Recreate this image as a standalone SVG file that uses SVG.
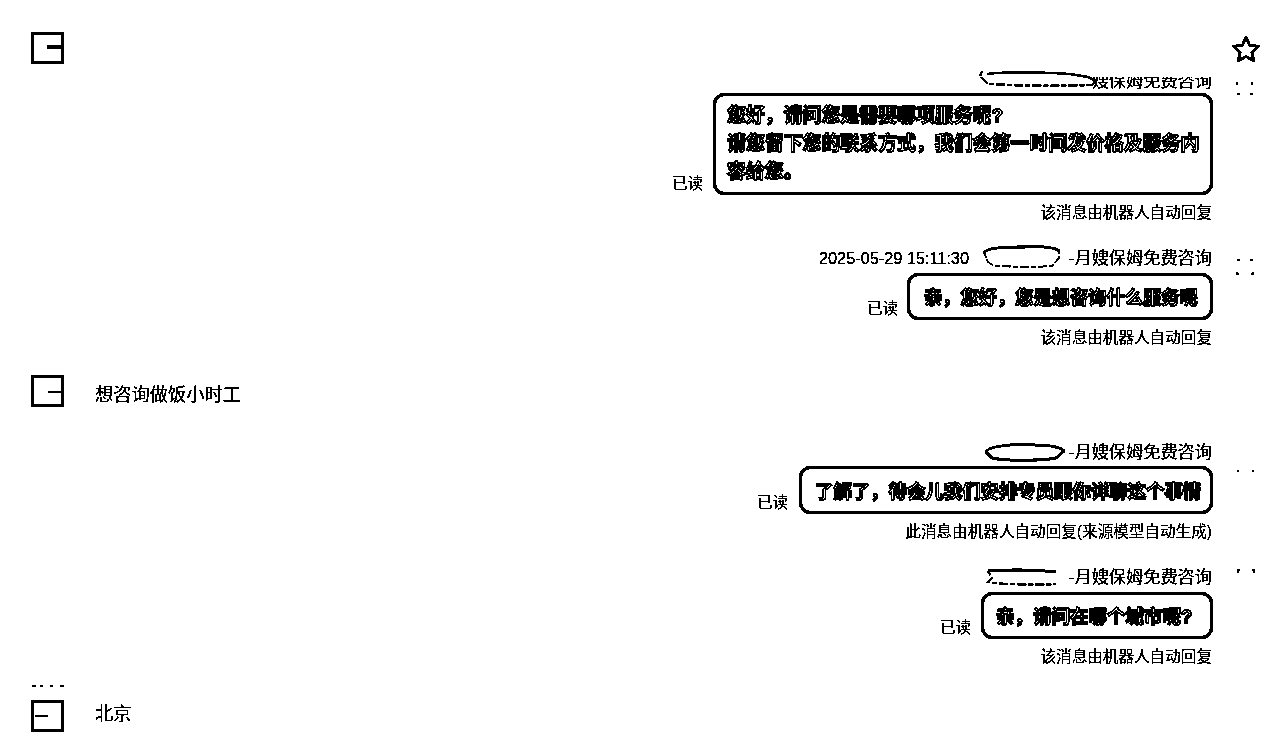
<svg xmlns="http://www.w3.org/2000/svg" width="1280" height="755" viewBox="0 0 1280 755">
<style>
text{font-family:"Liberation Sans","Noto Sans CJK SC",sans-serif;fill:#111}
.s{font-size:15.600px}
.h{font-size:17.200px}
.m{font-size:18.250px}
.b{font-weight:700;fill:#fff;stroke:#000;stroke-width:1.300px}
.bub{fill:#fff;stroke:#000;stroke-width:3}
.av{fill:#fff;stroke:#000;stroke-width:3}
.blob{fill:#fff;stroke:#000;stroke-width:2;stroke-linejoin:round}
.dot{fill:none;stroke:#000;stroke-width:2;stroke-dasharray:5 2 9 2}
.tick{fill:none;stroke:#000;stroke-width:1.500}
</style>
<defs>
<clipPath id="cut"><rect x="1090" y="77" width="130" height="13"/></clipPath>
<filter id="bw" x="0" y="0" width="100%" height="100%" color-interpolation-filters="sRGB">
<feColorMatrix type="matrix" values=".33 .34 .33 0 0 .33 .34 .33 0 0 .33 .34 .33 0 0 0 0 0 1 0"/>
<feComponentTransfer><feFuncR type="discrete" tableValues="0 0 0 1"/><feFuncG type="discrete" tableValues="0 0 0 1"/><feFuncB type="discrete" tableValues="0 0 0 1"/></feComponentTransfer>
</filter>
</defs>
<g filter="url(#bw)">
<rect width="1280" height="755" fill="#fff"/>
<g id="avatar1"><rect class="av" x="32.500" y="33.500" width="30" height="29"/><path d="M47 47H62" stroke="#000" stroke-width="3"/></g>
<g id="star"><path d="M1246 37l3.600 8.400 8.900.8-6.700 6 2 8.800-7.800-4.600-7.800 4.600 2-8.800-6.700-6 8.900-.8z" fill="#fff" stroke="#000" stroke-width="2.500" stroke-linejoin="round"/></g>
<g id="msg1">
<g clip-path="url(#cut)"><text class="h" x="1212" y="87" text-anchor="end">嫂保姆免费咨询</text></g>
<path d="M987 74C1005 72 1040 72 1070 74L1088 77L1096 81" fill="none" stroke="#000" stroke-width="2"/>
<path class="dot" d="M982 71L980 76L988 84C1020 86 1060 86 1092 85L1096 81"/>
<rect class="bub" x="714.500" y="94.500" width="497" height="99" rx="10"/>
<text class="m b" x="727" y="122" style="font-size:18.900px">您好，请问您是需要哪项服务呢?</text>
<text class="m b" x="727" y="150" style="font-size:18.900px">请您留下您的联系方式，我们会第一时间发价格及服务内</text>
<text class="m b" x="727" y="178" style="font-size:18.900px">容给您。</text>
<text class="s" x="672" y="189">已读</text>
<text class="s" x="1212" y="218" text-anchor="end">该消息由机器人自动回复</text>
<path class="tick" d="M1237 82v3M1252 82v3M1237 94h3M1250 94h3"/>
</g>
<g id="msg2">
<text x="819" y="264" style="font-size:16.300px">2025-05-29 15:11:30</text>
<path d="M984 253C987 248 1000 247 1025 247C1045 246 1056 248 1059 251" fill="none" stroke="#000" stroke-width="2.500"/>
<path class="dot" d="M984 253L988 262L994 266C1015 267 1040 267 1052 266L1059 258L1059 251" style="stroke-width:1.500"/>
<text class="h" x="1212" y="264" text-anchor="end">-月嫂保姆免费咨询</text>
<rect class="bub" x="908.500" y="274.500" width="303" height="44" rx="10"/>
<text class="m b" x="924" y="304">亲，您好，您是想咨询什么服务呢</text>
<text class="s" x="867" y="314">已读</text>
<text class="s" x="1212" y="343" text-anchor="end">该消息由机器人自动回复</text>
<path class="tick" d="M1237 260h3M1250 260h3M1237 272v2h2M1253 272v2h-2"/>
</g>
<g id="user1">
<rect class="av" x="32.500" y="376.500" width="30" height="29"/><path d="M48 392H62" stroke="#000" stroke-width="2"/>
<text class="m" x="95" y="401">想咨询做饭小时工</text>
</g>
<g id="msg3">
<path class="blob" d="M986 452C988 446 1010 444 1035 445C1050 445 1060 447 1064 451L1056 458C1040 461 1005 461 992 458Z" style="stroke-width:2.500"/>
<text class="h" x="1212" y="458" text-anchor="end">-月嫂保姆免费咨询</text>
<rect class="bub" x="800.500" y="467.500" width="411" height="45" rx="10"/>
<text class="m b" x="815" y="498" style="font-size:18.400px">了解了，待会儿我们安排专员跟你详聊这个事情</text>
<text class="s" x="757" y="508">已读</text>
<text class="s" x="1212" y="537" text-anchor="end">此消息由机器人自动回复(来源模型自动生成)</text>
<path class="tick" d="M1237 471h2M1252 471h2"/>
</g>
<g id="msg4">
<path d="M988 571C1005 569 1040 570 1056 572" fill="none" stroke="#000" stroke-width="2.500"/>
<path class="dot" d="M988 571L992 578L988 582C1005 585 1040 585 1056 584" style="stroke-width:2"/>
<text class="h" x="1212" y="583" text-anchor="end">-月嫂保姆免费咨询</text>
<rect class="bub" x="982.500" y="593.500" width="229" height="44" rx="10"/>
<text class="m b" x="996" y="623" style="font-size:18.500px">亲，请问在哪个城市呢?</text>
<text class="s" x="940" y="633">已读</text>
<text class="s" x="1212" y="662" text-anchor="end">该消息由机器人自动回复</text>
<path class="tick" d="M1238 573v-3h2M1254 573v-3h-2"/>
</g>
<g id="user2">
<path class="tick" d="M32 686h4M40 686h3M50 686h3M60 686h4"/>
<rect class="av" x="32.500" y="701.500" width="30" height="29"/><path d="M35 716H48" stroke="#000" stroke-width="1.500"/>
<text class="m" x="95" y="720">北京</text>
</g>
<g id="connectors"></g>
</g>
</svg>
